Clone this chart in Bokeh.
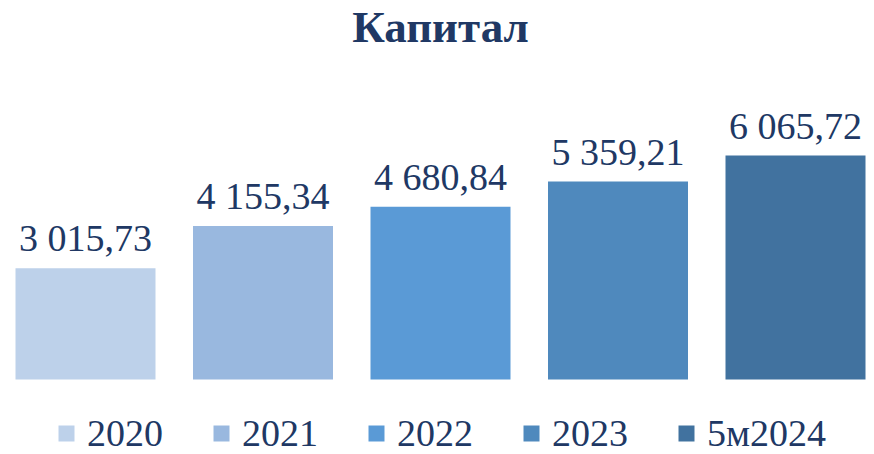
from bokeh.plotting import figure
from bokeh.models import ColumnDataSource, Range1d, Label
from bokeh.embed import file_html
from bokeh.resources import INLINE
from bokeh.core.properties import value

# --- data ---
categories = ["2020", "2021", "2022", "2023", "5м2024"]
capital = [3015.73, 4155.34, 4680.84, 5359.21, 6065.72]
labels = ["3 015,73", "4 155,34", "4 680,84", "5 359,21", "6 065,72"]
colors = ["#BDD1EA", "#99B8DF", "#5A9AD6", "#4F89BD", "#41729F"]
title_text = "Капитал"

# --- layout constants (pixels) ---
W, H = 874, 454
px_per_unit = 224.0 / 6065.72
bottom_px = 75.0
band_px = 177.5

y0 = -bottom_px / px_per_unit
y1 = y0 + H / px_per_unit
x0 = -85.0 / band_px
x1 = x0 + W / band_px

TEXT = "#203864"
FONT = "Liberation Serif"

src = ColumnDataSource(dict(
    x=list(range(len(categories))),
    top=capital,
    cat=categories,
    color=colors,
    label=labels,
))

p = figure(width=W, height=H, output_backend="svg", toolbar_location=None,
           x_range=Range1d(x0, x1), y_range=Range1d(y0, y1),
           min_border=0, min_border_left=0, min_border_right=0,
           min_border_top=0, min_border_bottom=0)
p.axis.visible = False
p.grid.visible = False
p.outline_line_color = None
p.background_fill_color = "white"
p.border_fill_color = "white"

p.vbar(x="x", top="top", bottom=0, width=140.0 / band_px, color="color",
       line_color=None, source=src, legend_field="cat")

p.text(x="x", y="top", text="label", source=src, text_align="center",
       text_baseline="alphabetic", y_offset=-30, text_color=TEXT,
       text_font=value(FONT), text_font_size="38px")

p.add_layout(Label(x=W / 2 + 3, y=H - 26, x_units="screen", y_units="screen",
                   text=title_text, text_align="center", text_baseline="alphabetic",
                   text_font=FONT, text_font_size="45px", text_font_style="bold",
                   text_color=TEXT))

leg = p.legend[0]
leg.orientation = "horizontal"
leg.location = (56, -1)
leg.glyph_width = 20
leg.glyph_height = 20
leg.label_standoff = 11
leg.spacing = 48
leg.padding = 0
leg.margin = 0
leg.border_line_alpha = 0
leg.background_fill_alpha = 0
leg.label_text_font = FONT
leg.label_text_font_size = "38px"
leg.label_text_color = TEXT
leg.label_height = 20

open("out.html", "w").write(file_html(p, INLINE))
